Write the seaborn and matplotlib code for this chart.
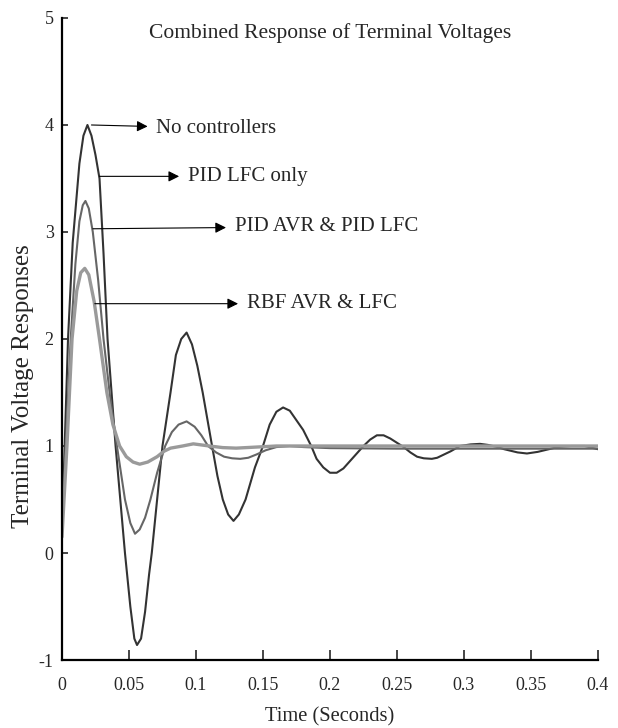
import matplotlib
matplotlib.use("Agg")
import matplotlib.pyplot as plt
import seaborn as sns

# (time in seconds, voltage response)
t_noctrl = [0, 0.0045, 0.008, 0.013, 0.016, 0.019, 0.022, 0.025, 0.028, 0.031, 0.034, 0.037,
            0.040, 0.0435, 0.047, 0.051, 0.054, 0.056, 0.059, 0.062, 0.065, 0.067, 0.071,
            0.075, 0.081, 0.085, 0.089, 0.093, 0.097, 0.101, 0.105, 0.112, 0.116, 0.12,
            0.124, 0.128, 0.132, 0.137, 0.144, 0.15, 0.155, 0.16, 0.165, 0.17, 0.175, 0.18,
            0.186, 0.19, 0.195, 0.2, 0.205, 0.21, 0.215, 0.22, 0.225, 0.23, 0.235, 0.24,
            0.245, 0.25, 0.255, 0.26, 0.265, 0.27, 0.276, 0.28, 0.285, 0.29, 0.297, 0.305,
            0.312, 0.318, 0.325, 0.33, 0.335, 0.34, 0.347, 0.355, 0.36, 0.365, 0.37, 0.38,
            0.39, 0.395, 0.4]
v_noctrl = [0.2, 2.0, 2.9, 3.64, 3.9, 4.0, 3.9, 3.72, 3.5, 2.8, 2.0, 1.5,
            1.0, 0.5, 0.0, -0.5, -0.8, -0.86, -0.8, -0.55, -0.2, 0.0, 0.5,
            1.0, 1.5, 1.85, 2.0, 2.06, 1.95, 1.75, 1.5, 1.0, 0.72, 0.5,
            0.36, 0.3, 0.36, 0.5, 0.8, 1.0, 1.2, 1.32, 1.36, 1.33, 1.24, 1.15,
            1.0, 0.88, 0.8, 0.75, 0.75, 0.79, 0.86, 0.93, 1.0, 1.06, 1.1, 1.1,
            1.07, 1.03, 0.99, 0.94, 0.9, 0.885, 0.88, 0.89, 0.92, 0.95, 1.0, 1.015,
            1.02, 1.01, 0.99, 0.97, 0.955, 0.94, 0.93, 0.945, 0.96, 0.975, 0.99, 1.0,
            1.0, 0.985, 0.97]

t_pid = [0, 0.0035, 0.0065, 0.01, 0.013, 0.0155, 0.0175, 0.02, 0.023, 0.027, 0.031, 0.036,
         0.041, 0.047, 0.051, 0.0545, 0.058, 0.062, 0.066, 0.071, 0.077, 0.082, 0.087,
         0.093, 0.099, 0.104, 0.109, 0.115, 0.121, 0.127, 0.133, 0.139, 0.145, 0.152,
         0.16, 0.17, 0.18, 0.2, 0.25, 0.3, 0.35, 0.4]
v_pid = [0.2, 1.2, 2.0, 2.7, 3.1, 3.25, 3.29, 3.22, 3.0, 2.55, 2.0, 1.45,
         1.0, 0.5, 0.28, 0.18, 0.22, 0.33, 0.5, 0.75, 1.0, 1.13, 1.2,
         1.23, 1.18, 1.1, 1.0, 0.94, 0.9, 0.885, 0.88, 0.89, 0.92, 0.96,
         0.99, 1.0, 0.99, 0.98, 0.975, 0.975, 0.975, 0.975]

t_rbf = [0, 0.0037, 0.0075, 0.011, 0.014, 0.017, 0.02, 0.024, 0.028, 0.0335, 0.038,
         0.043, 0.048, 0.053, 0.058, 0.064, 0.071, 0.076, 0.081, 0.09, 0.098, 0.11,
         0.12, 0.13, 0.145, 0.16, 0.2, 0.25, 0.3, 0.35, 0.4]
v_rbf = [0.15, 1.0, 2.0, 2.45, 2.62, 2.66, 2.6, 2.35, 2.0, 1.5, 1.2,
         1.0, 0.9, 0.85, 0.83, 0.85, 0.9, 0.95, 0.98, 1.0, 1.02, 1.0,
         0.985, 0.98, 0.99, 1.0, 1.0, 1.0, 1.0, 1.0, 1.0]

labels = ["No controllers", "PID LFC only", "PID AVR & PID LFC", "RBF AVR & LFC"]

sns.set_style("ticks")
plt.rcParams["font.family"] = ["Liberation Serif", "DejaVu Serif"]
plt.rcParams["axes.unicode_minus"] = False

fig = plt.figure(figsize=(6.18, 7.28), dpi=100)
ax = fig.add_axes([0.1003, 0.0934, 0.8673, 0.8819])

sns.lineplot(x=t_noctrl, y=v_noctrl, ax=ax, color="#333333", lw=1.5, sort=False)
sns.lineplot(x=t_pid, y=v_pid, ax=ax, color="#666666", lw=1.5, sort=False)
sns.lineplot(x=t_rbf, y=v_rbf, ax=ax, color="#9a9a9a", lw=2.4, sort=False)

ax.set_xlim(0, 0.4)
ax.set_ylim(-1, 5)
ax.set_xticks([0, 0.05, 0.1, 0.15, 0.2, 0.25, 0.3, 0.35, 0.4])
ax.set_xticklabels(["0", "0.05", "0.1", "0.15", "0.2", "0.25", "0.3", "0.35", "0.4"])
ax.set_yticks([-1, 0, 1, 2, 3, 4, 5])
ax.tick_params(axis="x", direction="in", length=7, width=1.2, labelsize=13, pad=12)
ax.tick_params(axis="y", direction="in", length=4, width=1.2, labelsize=13, pad=6)
sns.despine(ax=ax)
for side in ["left", "bottom"]:
    ax.spines[side].set_linewidth(1.6)
    ax.spines[side].set_color("black")

ax.set_xlabel("Time (Seconds)", fontsize=14.8, labelpad=10)
ax.set_ylabel("Terminal Voltage Responses", fontsize=18)
ax.yaxis.set_label_coords(-0.052, 0.427)
ax.text(0.2, 4.86, "Combined Response of Terminal Voltages", ha="center", va="center",
        fontsize=15.5)

# arrows from the curves to their labels: (curve point, label point)
arrows = [((0.022, 4.0), (0.0705, 3.97)),
          ((0.028, 3.52), (0.094, 3.52)),
          ((0.023, 3.03), (0.129, 3.05)),
          ((0.0245, 2.33), (0.138, 2.33))]
for lab, (start, end) in zip(labels, arrows):
    ax.annotate(lab, xy=start, xytext=end, fontsize=15, ha="left", va="center",
                arrowprops=dict(arrowstyle="<|-", color="black", lw=0.8,
                                mutation_scale=16, shrinkA=4, shrinkB=0))

fig.savefig("out.png", dpi=100)
